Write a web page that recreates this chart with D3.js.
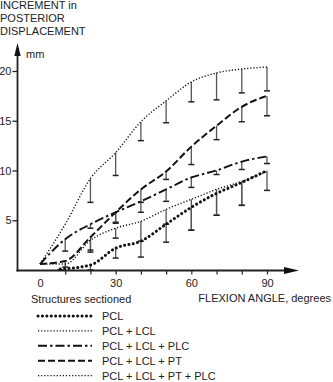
<!DOCTYPE html>
<html><head><meta charset="utf-8">
<script src="https://cdn.jsdelivr.net/npm/d3@7"></script>
<style>
html,body{margin:0;padding:0;background:#fff;}
svg{display:block;font-family:"Liberation Sans",Arial,Helvetica,sans-serif;}
</style></head>
<body>
<svg id="chart" width="333" height="382"></svg>
<script>
// ---- data ----
const seriesNames = ["PCL", "PCL + LCL", "PCL + LCL + PLC", "PCL + LCL + PT", "PCL + LCL + PT + PLC"];
const anglesPCL = [8, 20, 30, 40, 50, 60, 70, 80, 90];
const valuesPCL = [0.1, 0.5, 2.2, 2.9, 4.6, 6.3, 7.7, 8.8, 10.0];
const lowerPCL  = [0.0, 0.0, 1.2, 1.3, 2.8, 4.0, 5.5, 6.5, 8.0];
const angles = [0, 10, 20, 30, 40, 50, 60, 70, 80, 90];
const valuesPCL_LCL = [0.6, 0.6, 3.0, 4.2, 4.9, 6.1, 7.1, 8.1, 8.9, 9.9];
const lowerPCL_LCL  = [null, null, 1.8, 3.2, 2.9, 4.6, 4.0, 5.5, 6.5, null];
const valuesPLC = [0.6, 3.1, 4.6, 5.8, 6.9, 8.1, 9.3, 10.0, 10.9, 11.4];
const lowerPLC  = [null, 1.9, 4.2, 4.8, 5.8, 6.9, 8.3, 9.6, 10.1, 10.7];
const valuesPT = [0.6, 0.9, 3.3, 5.8, 8.1, 9.9, 12.4, 14.5, 16.4, 17.5];
const lowerPT  = [null, 0.3, 2.0, 4.7, 6.8, 9.1, 10.6, 13.1, 14.9, 15.5];
const valuesAll = [0.6, 4.6, 9.2, 11.8, 14.9, 17.0, 18.9, 19.8, 20.2, 20.4];
const lowerAll  = [null, null, 6.8, 9.5, 13.0, 14.8, 16.9, 17.1, 17.8, 18.0];
const yTicks = [5, 10, 15, 20];
const xTicks = [0, 10, 20, 30, 40, 50, 60, 70, 80, 90];
const xLabels = [0, 30, 60, 90];

// ---- styles ----
const styles = [
  {w: 3.0, dash: "0.1,4.3", cap: "round"},
  {w: 1.4, dash: "1.2,1.9", cap: "butt"},
  {w: 1.9, dash: "9,3,2.5,3", cap: "butt"},
  {w: 2.0, dash: "7,3", cap: "butt"},
  {w: 1.4, dash: "1.2,1.9", cap: "butt"}
];

const series = [
  {name: seriesNames[0], x: anglesPCL, v: valuesPCL, lo: lowerPCL},
  {name: seriesNames[1], x: angles, v: valuesPCL_LCL, lo: lowerPCL_LCL},
  {name: seriesNames[2], x: angles, v: valuesPLC, lo: lowerPLC},
  {name: seriesNames[3], x: angles, v: valuesPT, lo: lowerPT},
  {name: seriesNames[4], x: angles, v: valuesAll, lo: lowerAll}
];

const svg = d3.select("#chart");
const x = d3.scaleLinear().domain([0, 90]).range([40, 267]);
const y = d3.scaleLinear().domain([0, 20]).range([270, 71]);
const axisX0 = 17.5, axisY0 = 270.5;

// y axis
const gy = svg.append("g").attr("transform", `translate(${axisX0},0)`)
  .call(d3.axisLeft(y).tickValues(yTicks).tickSize(5).tickPadding(1));
gy.select(".domain").remove();
gy.selectAll(".tick line").attr("stroke", "#222").attr("stroke-width", 1.3);
gy.selectAll(".tick text").attr("font-size", 11).attr("fill", "#222")
  .attr("font-family", "Liberation Sans, Arial, sans-serif");

// x axis
const gx = svg.append("g").attr("transform", `translate(0,${axisY0})`)
  .call(d3.axisBottom(x).tickValues(xTicks).tickSize(4).tickPadding(5)
    .tickFormat(d => xLabels.includes(d) ? d : ""));
gx.select(".domain").remove();
gx.selectAll(".tick line").attr("stroke", "#222").attr("stroke-width", 1.2)
  .attr("display", d => d === 0 ? "none" : null);
gx.selectAll(".tick text").attr("font-size", 11).attr("fill", "#222")
  .attr("font-family", "Liberation Sans, Arial, sans-serif");

// axis lines + arrows
svg.append("line").attr("x1", axisX0).attr("x2", axisX0).attr("y1", axisY0 + 1).attr("y2", 54)
  .attr("stroke", "#222").attr("stroke-width", 1.8);
svg.append("path").attr("d", `M${axisX0},43 L${axisX0 - 3.2},56 L${axisX0 + 3.2},56 Z`).attr("fill", "#111");
svg.append("line").attr("x1", axisX0 - 1).attr("x2", 287).attr("y1", axisY0).attr("y2", axisY0)
  .attr("stroke", "#222").attr("stroke-width", 1.8);
svg.append("path").attr("d", `M299,${axisY0} L284,${axisY0 - 3.5} L284,${axisY0 + 3.5} Z`).attr("fill", "#111");

// titles
const title = svg.append("text").attr("font-size", 11).attr("fill", "#222");
["INCREMENT in", "POSTERIOR", "DISPLACEMENT"].forEach((t, i) =>
  title.append("tspan").attr("x", 0).attr("y", 8.5 + i * 13.3).text(t));
svg.append("text").attr("x", 26).attr("y", 58).attr("font-size", 11).attr("fill", "#222").text("mm");
svg.append("text").attr("x", 331).attr("y", 302).attr("text-anchor", "end")
  .attr("font-size", 11).attr("fill", "#222").text("FLEXION ANGLE, degrees");

// error bars
const eb = svg.append("g");
series.forEach((s, si) => {
  s.x.forEach((a, i) => {
    const lo = s.lo[i];
    if (lo === null || lo === undefined) return;
    const px = x(a), y1 = y(s.v[i]), y2 = y(lo);
    if (Math.abs(y2 - y1) < 0.5) return;
    eb.append("line").attr("x1", px).attr("x2", px).attr("y1", y1).attr("y2", y2)
      .attr("stroke", "#555").attr("stroke-width", 1.3);
    eb.append("line").attr("x1", px - 3).attr("x2", px + 3).attr("y1", y2).attr("y2", y2)
      .attr("stroke", "#222").attr("stroke-width", 1.5);
  });
});

// lines
const line = d3.line().x(d => x(d[0])).y(d => y(d[1])).curve(d3.curveMonotoneX);
series.forEach((s, si) => {
  const st = styles[si];
  svg.append("path").attr("d", line(s.x.map((a, i) => [a, s.v[i]])))
    .attr("fill", "none").attr("stroke", "#111").attr("stroke-width", st.w)
    .attr("stroke-dasharray", st.dash).attr("stroke-linecap", st.cap);
});

// legend
svg.append("text").attr("x", 31).attr("y", 303).attr("font-size", 11).attr("fill", "#222")
  .text("Structures sectioned");
series.forEach((s, si) => {
  const st = styles[si];
  const yy = 316 + si * 14.9;
  svg.append("line").attr("x1", 38).attr("x2", 92).attr("y1", yy).attr("y2", yy)
    .attr("stroke", "#111").attr("stroke-width", st.w)
    .attr("stroke-dasharray", st.dash).attr("stroke-linecap", st.cap);
  svg.append("text").attr("x", 102).attr("y", yy + 4).attr("font-size", 11).attr("fill", "#222")
    .text(s.name);
});
</script>
</body></html>
